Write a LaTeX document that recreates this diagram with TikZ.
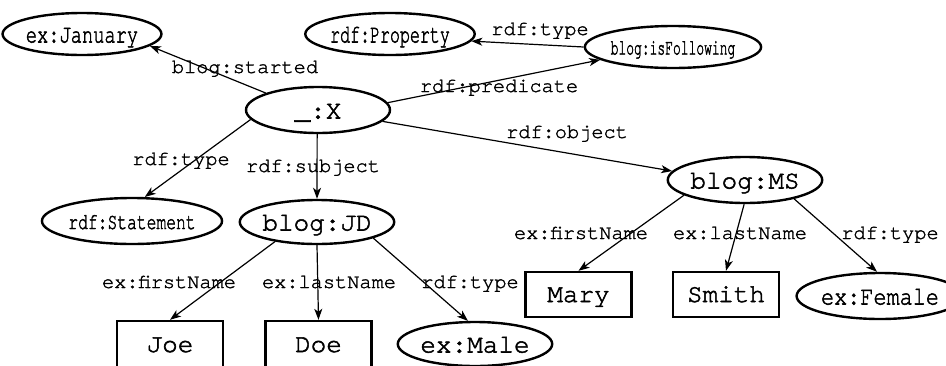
\documentclass[tikz,border=0pt]{standalone}
\usepackage{fontspec}
\setmonofont{TeX Gyre Cursor}[FakeBold=2]
\newfontfamily\labelfont{TeX Gyre Cursor}[FakeBold=1.5]
\usetikzlibrary{shapes.geometric,arrows.meta}

\tikzset{
  res/.style={ellipse, draw, line width=2.4pt, inner sep=0pt,
    font=\ttfamily\fontsize{26}{30}\selectfont, text height=17pt, text depth=0pt},
  lit/.style={rectangle, draw, line width=2.4pt, inner sep=0pt,
    minimum width=106pt, minimum height=46pt,
    font=\ttfamily\fontsize{26}{30}\selectfont, text height=15pt, text depth=0pt},
  elabel/.style={anchor=base, inner sep=0pt,
    font=\labelfont\fontsize{20.3}{24}\selectfont},
  arc/.style={-{Stealth[length=11pt,width=8pt,inset=3pt]}, line width=1.2pt},
}

\begin{document}
\begin{tikzpicture}[x=1pt,y=-1pt]
\useasboundingbox (0,0) rectangle (946,365);
\clip (0,0) rectangle (946,365);

% resources
\node[res, minimum width=144pt, minimum height=42pt] (jan) at (82,34)
  {\scalebox{0.72}[1]{ex:January}};
\node[res, minimum width=144pt, minimum height=46pt] (x) at (318,110) {\_:X};
\node[res, minimum width=144pt, minimum height=42pt] (prop) at (390,34)
  {\scalebox{0.64}[1]{rdf:Property}};
\node[res, minimum width=142pt, minimum height=42pt,
      font=\ttfamily\fontsize{22}{26}\selectfont, text height=15pt] (isf) at (673,47)
  {\scalebox{0.59}[1]{blog:isFollowing}};
\node[res, minimum width=142pt, minimum height=46pt,
      font=\ttfamily\fontsize{23}{27}\selectfont, text height=16pt] (stmt) at (132,221)
  {\scalebox{0.71}[1]{rdf:Statement}};
\node[res, minimum width=142pt, minimum height=44pt] (jd) at (317,222) {blog:JD};
\node[res, minimum width=144pt, minimum height=46pt] (ms) at (745,180) {blog:MS};
\node[res, minimum width=144pt, minimum height=44pt] (male) at (475,344) {ex:Male};
\node[res, minimum width=134pt, minimum height=46pt] (female) at (880,296)
  {\scalebox{0.84}[1]{ex:Female}};

% literals
\node[lit, minimum height=47pt] (joe) at (170,344.5) {Joe};
\node[lit, minimum height=47pt] (doe) at (318.5,344.5) {Doe};
\node[lit, minimum height=45pt] (mary) at (578.5,294.5) {Mary};
\node[lit, minimum height=45pt] (smith) at (726,294.5) {Smith};

% edges
\draw[arc] (x.162) -- (jan.-10);
\draw[arc] (x.6) -- (isf.190);
\draw[arc] (isf.180) -- (prop.-5);
\draw[arc] (x.188) -- (stmt.62);
\draw[arc] (x.-92) -- (jd.90);
\draw[arc] (x.-10) -- (ms.173);
\draw[arc] (jd.205) -- (joe.north);
\draw[arc] (jd.-90) -- (doe.north);
\draw[arc] (jd.-16) -- (male.107);
\draw[arc] (ms.194) -- (mary.north);
\draw[arc] (ms.-92) -- (smith.north);
\draw[arc] (ms.-21) -- (female.97);

% edge labels
\node[elabel] (l1) at (245,73) {blog:started};
\node[elabel] (l2) at (499,92) {rdf:predicate};
\node[elabel] (l3) at (540,35) {rdf:type};
\node[elabel] (l4) at (567,138) {rdf:object};
\node[elabel] (l5) at (181,165) {rdf:type};
\node[elabel] (l6) at (313,172) {rdf:subject};
\node[elabel] (l7) at (169,288) {ex:firstName};
\node[elabel] (l8) at (329,288) {ex:lastName};
\node[elabel] (l9) at (470,288) {rdf:type};
\node[elabel] (l10) at (581,239) {ex:firstName};
\node[elabel] (l11) at (740,239) {ex:lastName};
\node[elabel] (l12) at (890,239) {rdf:type};
\end{tikzpicture}
\end{document}
